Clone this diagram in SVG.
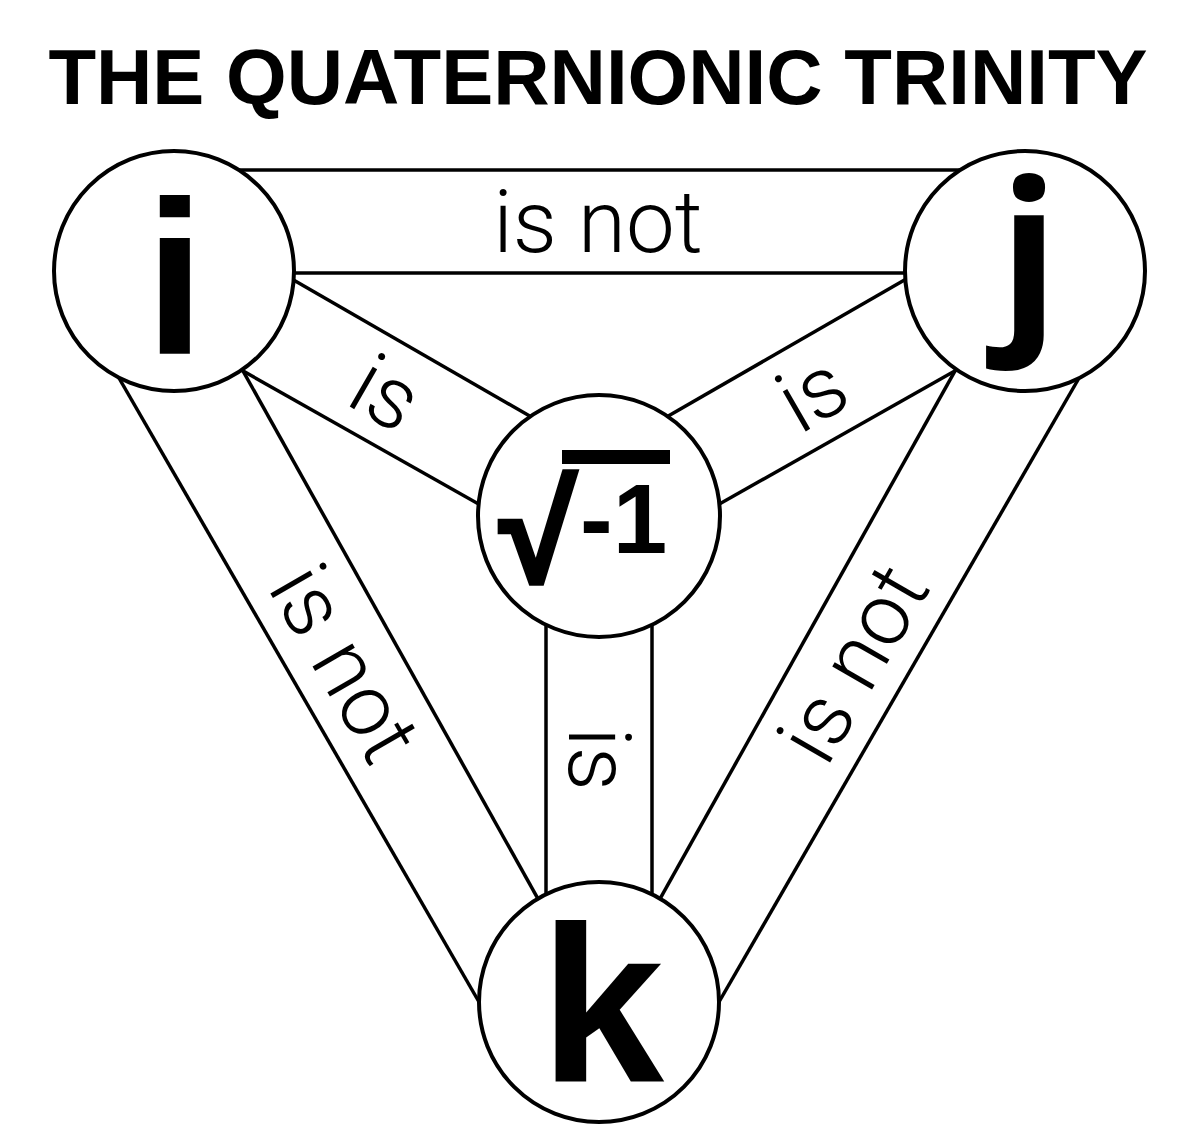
<svg xmlns="http://www.w3.org/2000/svg" width="1200" height="1137" viewBox="0 0 1200 1137">
<style>
.band{stroke:#000;stroke-width:3.5;fill:none}
.node{fill:#fff;stroke:#000;stroke-width:4}
.lbl{font-family:Roboto,"Open Sans","Liberation Sans",sans-serif;font-weight:300;font-size:87px;fill:#000;text-anchor:middle}
.big{font-family:"Liberation Sans",Arial,sans-serif;font-weight:bold;fill:#000;text-anchor:middle}
</style>
<rect width="1200" height="1137" fill="#fff"/>
<text id="title" class="big" x="598" y="104" font-size="78">THE QUATERNIONIC TRINITY</text>
<g id="connectors">
<line class="band" x1="220" y1="170" x2="980" y2="170"/>
<line class="band" x1="200" y1="273" x2="1000" y2="273"/>
<line class="band" x1="115.5" y1="372" x2="482.5" y2="1008"/>
<line class="band" x1="235.7" y1="357.9" x2="544.3" y2="910.1"/>
<line class="band" x1="284" y1="274.5" x2="541" y2="422.5"/>
<line class="band" x1="230" y1="363.6" x2="490" y2="510.4"/>
<line class="band" x1="914" y1="274.5" x2="657" y2="422.5"/>
<line class="band" x1="968" y1="363.6" x2="708" y2="510.4"/>
<line class="band" x1="1082.5" y1="372" x2="715.5" y2="1008"/>
<line class="band" x1="962.3" y1="357.9" x2="653.7" y2="910.1"/>
<line class="band" x1="546" y1="620" x2="546" y2="910"/>
<line class="band" x1="652" y1="620" x2="652" y2="910"/>
<text class="lbl" x="598" y="252">is not</text>
<text class="lbl" transform="translate(345.2,663) rotate(60)" x="0" y="30">is not</text>
<text class="lbl" transform="translate(852.8,663) rotate(-60)" x="0" y="30">is not</text>
<text class="lbl" transform="translate(386,393) rotate(30)" x="0" y="30">is</text>
<text class="lbl" transform="translate(812,393) rotate(-30)" x="0" y="30">is</text>
<text class="lbl" transform="translate(599,759) rotate(90)" x="0" y="30">is</text>
</g>
<g id="node-i">
<circle class="node" cx="174" cy="271" r="120"/>
<text class="big" x="175" y="354" font-size="219">i</text>
</g>
<g id="node-j">
<circle class="node" cx="1025" cy="271" r="120"/>
<text class="big" x="1029" y="323" font-size="198" style="font-family:'Open Sans','Liberation Sans',sans-serif">j</text>
</g>
<g id="node-center">
<circle class="node" cx="599" cy="516" r="121"/>
<text class="big" x="538" y="582" font-size="140" stroke="#000" stroke-width="4">√</text>
<rect x="562" y="450" width="108" height="14" fill="#000"/>
<text class="big" x="580" y="553" font-size="98" style="text-anchor:start">-1</text>
</g>
<g id="node-k">
<circle class="node" cx="599" cy="1002" r="120"/>
<text class="big" x="602" y="1082" font-size="223">k</text>
</g>
</svg>
